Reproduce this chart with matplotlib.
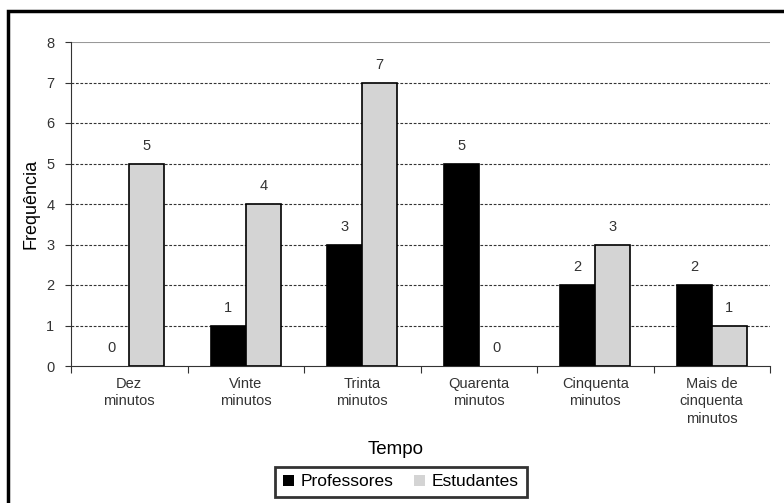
import numpy as np
import matplotlib.pyplot as plt
from matplotlib.patches import Rectangle

categorias = ["Dez\nminutos", "Vinte\nminutos", "Trinta\nminutos", "Quarenta\nminutos",
              "Cinquenta\nminutos", "Mais de\ncinquenta\nminutos"]
professores = [0, 1, 3, 5, 2, 2]
estudantes = [5, 4, 7, 0, 3, 1]

plt.rcParams['font.family'] = ['Liberation Sans', 'DejaVu Sans']

fig = plt.figure(figsize=(7.84, 5.03), dpi=100)
W, H = 784, 503
ax = fig.add_axes([71 / W, 1 - 366 / H, (770 - 71) / W, (366 - 42) / H])

# moldura externa
fig.patches.append(Rectangle((8 / W, -0.05), 1.1, 1 - 11 / H + 0.05, transform=fig.transFigure,
                             fill=False, edgecolor='black', linewidth=2.5))

x = np.arange(len(categorias))
w = 0.3
b1 = ax.bar(x - w / 2, professores, w, color='black', edgecolor='black', linewidth=1.2, label='Professores', zorder=3)
b2 = ax.bar(x + w / 2, estudantes, w, color='#d4d4d4', edgecolor='black', linewidth=1.2, label='Estudantes', zorder=3)

for bars, vals in ((b1, professores), (b2, estudantes)):
    for r, v in zip(bars, vals):
        if v == 0:
            r.set_linewidth(0)
        ax.text(r.get_x() + r.get_width() / 2, v + 0.27, str(v), ha='center', va='bottom',
                fontsize=10.5, color='#333333')

ax.set_xlim(-0.5, len(categorias) - 0.5)
ax.set_ylim(0, 8)
ax.set_yticks(range(0, 9))
ax.set_yticklabels([str(i) for i in range(9)], fontsize=10.5, color='#333333')
for yv in range(1, 8):
    ax.axhline(yv, color='#333333', linestyle=(0, (2.5, 1.5)), linewidth=0.8, zorder=1)
ax.axhline(8, color='#999999', linewidth=1.5, zorder=1)

ax.set_xticks(np.arange(-0.5, len(categorias)))
ax.set_xticklabels([])
ax.tick_params(axis='x', length=5, direction='out', color='#333333')
ax.tick_params(axis='y', length=4, direction='out', color='#333333', pad=8)
for i, c in enumerate(categorias):
    ax.text(i, -0.27, c, ha='center', va='top', fontsize=10.5, color='#333333', linespacing=1.3)

for s in ('top', 'right'):
    ax.spines[s].set_visible(False)
ax.spines['left'].set_color('#333333')
ax.spines['bottom'].set_color('#333333')

ax.set_ylabel('Frequência', fontsize=13, labelpad=5)
fig.text(396 / W, 1 - 449 / H, 'Tempo', ha='center', va='center', fontsize=13.5)

leg = fig.legend(loc='center', bbox_to_anchor=(401 / W, 1 - 482 / H), ncol=2, fontsize=12.5,
                 frameon=True, fancybox=False, edgecolor='black', handlelength=0.6, handleheight=0.6,
                 handletextpad=0.4, columnspacing=1.2, borderpad=0.45)
leg.get_frame().set_linewidth(2)
for h in leg.legend_handles:
    h.set_edgecolor('none')

fig.savefig('out.png', dpi=100)
